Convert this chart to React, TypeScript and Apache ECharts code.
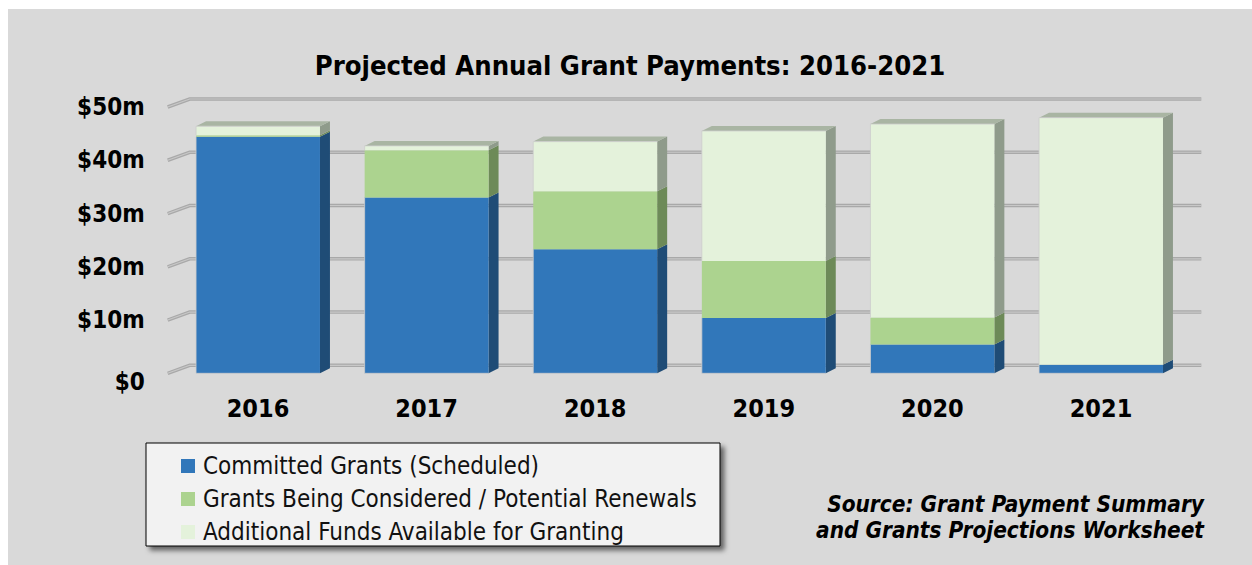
import React, { useEffect, useRef } from "react";
import * as echarts from "echarts";

const FONT = "'DejaVu Sans Condensed', 'DejaVu Sans', sans-serif";

const categories = ["2016", "2017", "2018", "2019", "2020", "2021"];
const committed = [44.4, 33.0, 23.3, 10.4, 5.4, 1.6];
const considered = [0.3, 8.9, 10.9, 10.7, 5.1, 0];
const available = [1.7, 0.8, 9.3, 24.4, 36.3, 46.4];
const yTicks = [0, 10, 20, 30, 40, 50];
const yTickLabels = ["$0", "$10m", "$20m", "$30m", "$40m", "$50m"];
const seriesNames = [
  "Committed Grants (Scheduled)",
  "Grants Being Considered / Potential Renewals",
  "Additional Funds Available for Granting",
];
const titleText = "Projected Annual Grant Payments: 2016-2021";
const sourceLines = ["Source: Grant Payment Summary", "and Grants Projections Worksheet"];

const layers = [committed, considered, available];
const faceColors = [
  { front: "#3177ba", side: "#1f4c76", top: "#5d8cbd" },
  { front: "#acd38f", side: "#6d8a58", top: "#a3b894" },
  { front: "#e4f2db", side: "#8f9b8b", top: "#a9b5a3" },
];

const DX = 10;
const DY = -5;

function buildLayerData(li: number) {
  return categories.map((_, i) => {
    let start = 0;
    for (let k = 0; k < li; k++) start += layers[k][i];
    const end = start + layers[li][i];
    let isTop = 1;
    for (let k = li + 1; k < layers.length; k++) if (layers[k][i] > 0) isTop = 0;
    return [i, start, end, isTop];
  });
}

export default function App() {
  const ref = useRef<HTMLDivElement>(null);
  useEffect(() => {
    if (!ref.current) return;
    const chart = echarts.init(ref.current, undefined, { renderer: "svg" });

    const gridSeries = {
      type: "custom",
      name: "grid",
      coordinateSystem: "cartesian2d",
      silent: true,
      z: 1,
      clip: false,
      legendHoverLink: false,
      data: yTicks.map((v) => [0, v]),
      encode: { x: 0, y: 1 },
      renderItem: (params: any, api: any) => {
        const cs = params.coordSys;
        const y = api.coord([0, api.value(1)])[1];
        const xs = cs.x - 6;
        const pts = [
          [xs, y],
          [xs + 22, y - 8],
          [cs.x + cs.width + 16, y - 8],
        ];
        return {
          type: "group",
          children: [
            { type: "polyline", shape: { points: pts }, style: { stroke: "#a9a9a9", lineWidth: 3.5, fill: "none" } },
            { type: "polyline", shape: { points: pts }, style: { stroke: "#c8c8c8", lineWidth: 1.2, fill: "none" } },
          ],
        };
      },
    };

    const barSeries = layers.map((_, li) => ({
      type: "custom",
      name: seriesNames[li],
      coordinateSystem: "cartesian2d",
      z: 3,
      clip: false,
      itemStyle: { color: faceColors[li].front },
      data: buildLayerData(li),
      encode: { x: 0, y: [1, 2] },
      renderItem: (params: any, api: any) => {
        const idx = api.value(0);
        const lo = api.value(1);
        const hi = api.value(2);
        const isTop = api.value(3);
        if (hi - lo <= 0) return null;
        const p0 = api.coord([idx, lo]);
        const p1 = api.coord([idx, hi]);
        const bw = api.size([1, 0])[0] * 0.735;
        const x0 = p0[0] - bw / 2;
        const x1 = p0[0] + bw / 2;
        const yb = p0[1];
        const yt = p1[1];
        const c = faceColors[li];
        const children: any[] = [
          {
            type: "polygon",
            shape: { points: [[x1, yb], [x1, yt], [x1 + DX, yt + DY], [x1 + DX, yb + DY]] },
            style: { fill: c.side },
          },
          {
            type: "rect",
            shape: { x: x0, y: yt, width: bw, height: yb - yt },
            style: { fill: c.front },
          },
        ];
        if (isTop) {
          children.push({
            type: "polygon",
            shape: { points: [[x0, yt], [x0 + DX, yt + DY], [x1 + DX, yt + DY], [x1, yt]] },
            style: { fill: c.top },
          });
        }
        if (lo === 0 || isTop) {
          children.push({
            type: "polyline",
            shape: {
              points: isTop
                ? [[x0, yb], [x0, yt], [x1, yt]]
                : [[x0, yt], [x0, yb], [x1, yb]],
            },
            style: { stroke: "rgba(205,205,205,0.8)", lineWidth: 1, fill: "none" },
          });
        }
        return { type: "group", children };
      },
    }));

    const option: any = {
      animation: false,
      backgroundColor: "#d9d9d9",
      title: {
        text: titleText,
        left: "center",
        top: 38,
        textStyle: { fontSize: 27.2, fontWeight: "bold", color: "#000", fontFamily: FONT },
      },
      grid: { left: 165.7, right: 66.7, top: 98, bottom: 191.7 },
      xAxis: {
        type: "category",
        data: categories,
        axisLine: { show: false },
        axisTick: { show: false },
        splitLine: { show: false },
        axisLabel: { margin: 23, fontSize: 25, fontWeight: "bold", color: "#000", fontFamily: FONT },
      },
      yAxis: {
        type: "value",
        min: 0,
        max: 50,
        interval: 10,
        axisLine: { show: false },
        axisTick: { show: false },
        splitLine: { show: false },
        axisLabel: {
          margin: 29,
          fontSize: 24,
          fontWeight: "bold",
          color: "#000",
          fontFamily: FONT,
          formatter: (v: number) => {
            const t = yTickLabels[yTicks.indexOf(v)] ?? "";
            return v === 0 ? `{zero|${t}}` : t;
          },
          rich: {
            zero: { fontSize: 24, fontWeight: "bold", color: "#000", fontFamily: FONT, padding: [18, 0, 0, 0] },
          },
        },
      },
      legend: {
        orient: "vertical",
        left: 168,
        top: 440,
        itemWidth: 14,
        itemHeight: 14,
        itemGap: 9,
        icon: "rect",
        selectedMode: false,
        z: 10,
        data: seriesNames.map((n, i) => ({ name: n, itemStyle: { color: faceColors[i].front } })),
        textStyle: { fontSize: 24, color: "#111", fontFamily: FONT, lineHeight: 24, padding: [0, 0, 0, 3] },
      },
      graphic: [
        {
          type: "rect",
          z: 0,
          shape: { x: 138, y: 434, width: 574, height: 103 },
          style: {
            fill: "#f2f2f2",
            stroke: "#000",
            lineWidth: 1,
            shadowBlur: 5,
            shadowOffsetX: 4,
            shadowOffsetY: 4,
            shadowColor: "rgba(0,0,0,0.55)",
          },
        },
        {
          type: "text",
          z: 5,
          x: 1196,
          y: 495,
          style: {
            text: sourceLines[0],
            fill: "#000",
            fontSize: 22.4,
            fontWeight: "bold",
            fontStyle: "italic",
            fontFamily: FONT,
            textAlign: "right",
            textVerticalAlign: "middle",
          },
        },
        {
          type: "text",
          z: 5,
          x: 1196,
          y: 521,
          style: {
            text: sourceLines[1],
            fill: "#000",
            fontSize: 22.4,
            fontWeight: "bold",
            fontStyle: "italic",
            fontFamily: FONT,
            textAlign: "right",
            textVerticalAlign: "middle",
          },
        },
      ],
      series: [gridSeries, ...barSeries],
    };
    chart.setOption(option);
    return () => chart.dispose();
  }, []);

  return (
    <div
      ref={ref}
      style={{ position: "absolute", left: 8, top: 9, width: 1244, height: 556, background: "#d9d9d9" }}
    />
  );
}
